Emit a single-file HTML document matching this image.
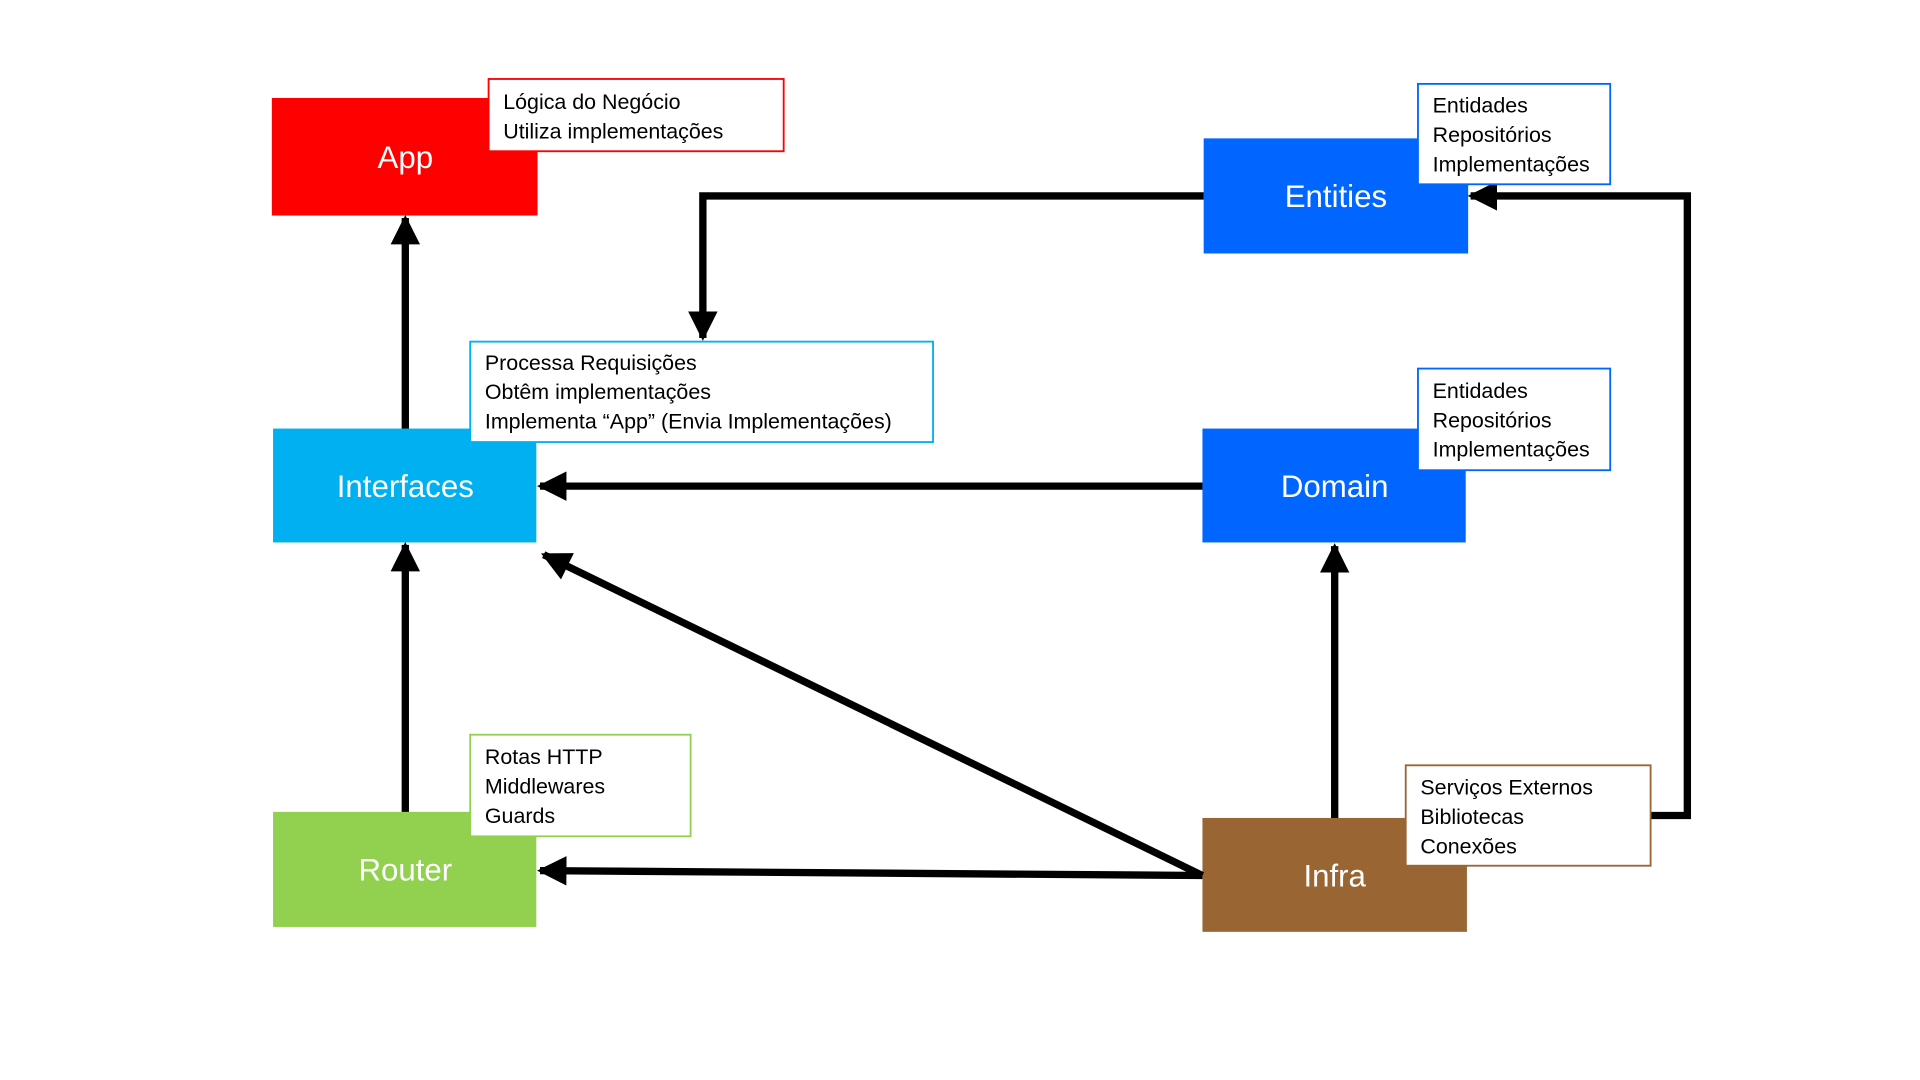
<!DOCTYPE html>
<html><head><meta charset="utf-8"><style>
html,body{margin:0;padding:0;background:#fff;}
svg{display:block;}
text{font-family:"Liberation Sans",sans-serif;}
.n{font-size:17.5px;fill:#000;}
.b{font-size:25.5px;fill:#fff;text-anchor:middle;}
</style></head><body>
<svg width="1920" height="1080" viewBox="0 0 1568 882" preserveAspectRatio="none" xmlns="http://www.w3.org/2000/svg">
<defs>
<marker id="a" markerWidth="4" markerHeight="4" refX="3.6" refY="2" orient="auto" markerUnits="strokeWidth">
<path d="M0,0 L4,2 L0,4 Z" fill="#000"/></marker>
</defs>
<rect width="1568" height="882" fill="#fff"/>
<rect x="222" y="80" width="217" height="96" fill="#FF0000"/>
<text class="b" x="331" y="137">App</text>
<rect x="983" y="113" width="216" height="94" fill="#0066FF"/>
<text class="b" x="1091" y="169">Entities</text>
<rect x="223" y="350" width="215" height="93" fill="#00B0F0"/>
<text class="b" x="331" y="406">Interfaces</text>
<rect x="982" y="350" width="215" height="93" fill="#0066FF"/>
<text class="b" x="1090" y="406">Domain</text>
<rect x="223" y="663" width="215" height="94" fill="#92D050"/>
<text class="b" x="331" y="719">Router</text>
<rect x="982" y="668" width="216" height="93" fill="#996633"/>
<text class="b" x="1090" y="724">Infra</text>
<g stroke="#000" stroke-width="6" fill="none">
<line x1="331" y1="350" x2="331" y2="178" marker-end="url(#a)"/>
<line x1="331" y1="663" x2="331" y2="445" marker-end="url(#a)"/>
<polyline points="983,160 574,160 574,276" marker-end="url(#a)"/>
<line x1="982" y1="397" x2="441" y2="397" marker-end="url(#a)"/>
<line x1="982" y1="715" x2="441" y2="711" marker-end="url(#a)"/>
<line x1="982" y1="715" x2="444" y2="453" marker-end="url(#a)"/>
<line x1="1090" y1="668" x2="1090" y2="446" marker-end="url(#a)"/>
<polyline points="1348,666 1378,666 1378,160 1201,160" marker-end="url(#a)"/>
</g>
<rect x="399" y="64.5" width="241" height="59" fill="#fff" stroke="#FF0000" stroke-width="1.5"/>
<text class="n" x="411" y="89">Lógica do Negócio</text>
<text class="n" x="411" y="113">Utiliza implementações</text>
<rect x="1158" y="68.5" width="157" height="82" fill="#fff" stroke="#0066FF" stroke-width="1.5"/>
<text class="n" x="1170" y="92">Entidades</text>
<text class="n" x="1170" y="116">Repositórios</text>
<text class="n" x="1170" y="140">Implementações</text>
<rect x="384" y="279" width="378" height="82" fill="#fff" stroke="#00B0F0" stroke-width="1.5"/>
<text class="n" x="396" y="302">Processa Requisições</text>
<text class="n" x="396" y="326">Obtêm implementações</text>
<text class="n" x="396" y="350">Implementa “App” (Envia Implementações)</text>
<rect x="1158" y="301" width="157" height="83" fill="#fff" stroke="#0066FF" stroke-width="1.5"/>
<text class="n" x="1170" y="325">Entidades</text>
<text class="n" x="1170" y="349">Repositórios</text>
<text class="n" x="1170" y="373">Implementações</text>
<rect x="384" y="600" width="180" height="83" fill="#fff" stroke="#92D050" stroke-width="1.5"/>
<text class="n" x="396" y="624">Rotas HTTP</text>
<text class="n" x="396" y="648">Middlewares</text>
<text class="n" x="396" y="672">Guards</text>
<rect x="1148" y="625" width="200" height="82" fill="#fff" stroke="#996633" stroke-width="1.5"/>
<text class="n" x="1160" y="649">Serviços Externos</text>
<text class="n" x="1160" y="673">Bibliotecas</text>
<text class="n" x="1160" y="697">Conexões</text>
</svg>
</body></html>
